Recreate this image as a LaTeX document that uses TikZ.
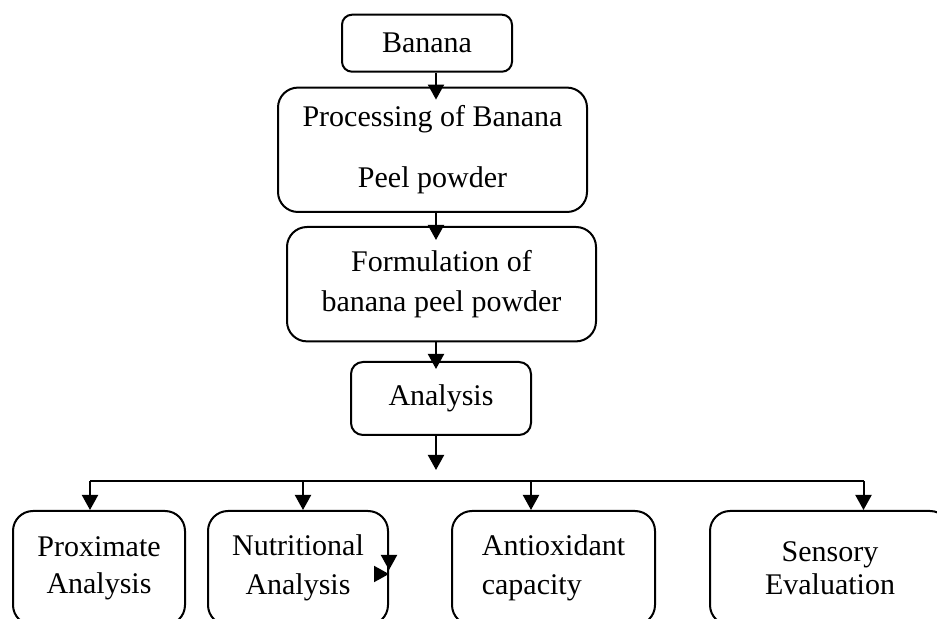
\documentclass[tikz,border=0pt]{standalone}
\usepackage{fontspec}
\setmainfont{Liberation Serif}
\usetikzlibrary{arrows.meta}

\tikzset{
  stage/.style={draw,rounded corners=10pt,line width=1pt,align=center,inner sep=0pt,font=\fontsize{15}{#1}\selectfont},
  stage/.default=19pt,
  arr/.style={-{Triangle[width=8pt,length=7.5pt]},line width=1pt}
}

\begin{document}
\begin{tikzpicture}[x=0.5pt,y=-0.5pt]
\useasboundingbox (0,0) rectangle (937,619);
\clip (0,0) rectangle (937,619);
\coordinate (spine) at (436,0);
\node[stage,rounded corners=5pt,minimum width=85pt,minimum height=28.5pt] (banana) at (427,43.2) {Banana};
\node[stage=30.5pt,minimum width=154.5pt,minimum height=62.2pt] (proc) at (432.5,149.8) {Processing of Banana\\Peel powder};
\node[stage=20pt,minimum width=154.5pt,minimum height=57.2pt] (form) at (441.5,284.2) {Formulation of\\banana peel powder};
\node[stage,rounded corners=6pt,minimum width=90pt,minimum height=36.5pt] (ana) at (441,398.5) {Analysis};
\node[stage=18.5pt,minimum width=86pt,minimum height=57pt] (prox) at (99,568) {Proximate\\Analysis};
\node[stage=19.5pt,minimum width=90pt,minimum height=57pt] (nutr) at (298,568) {Nutritional\\Analysis};
\node[stage=19.5pt,align=left,minimum width=101.5pt,minimum height=57pt] (anti) at (553.5,568) {Antioxidant\\capacity};
\node[stage=16.5pt,minimum width=120pt,minimum height=57pt] (sens) at (830,568) {Sensory\\Evaluation};
\coordinate (split) at (436,470);
\draw[arr,shorten >=-6.5pt] (banana.south -| spine) -- (proc.north -| spine);
\draw[arr,shorten >=-7pt] (proc.south -| spine) -- (form.north -| spine);
\draw[arr,shorten >=-4pt] (form.south -| spine) -- (ana.north -| spine);
\draw[arr] (ana.south -| spine) -- (split);
\draw[line width=1pt] (90,481) coordinate (busL) -- (863.5,481) coordinate (busR);
\foreach \x/\n in {90/prox,303/nutr,531/anti,863.5/sens}
  \draw[arr] (\x,481) -- (\x,0 |- \n.north);
\draw[arr] ([yshift=6pt]nutr.east) -- ([yshift=-1pt]nutr.east);
\draw[arr] ([xshift=-7.5pt,yshift=-3pt]nutr.east) -- ([yshift=-3pt]nutr.east);
\end{tikzpicture}
\end{document}
